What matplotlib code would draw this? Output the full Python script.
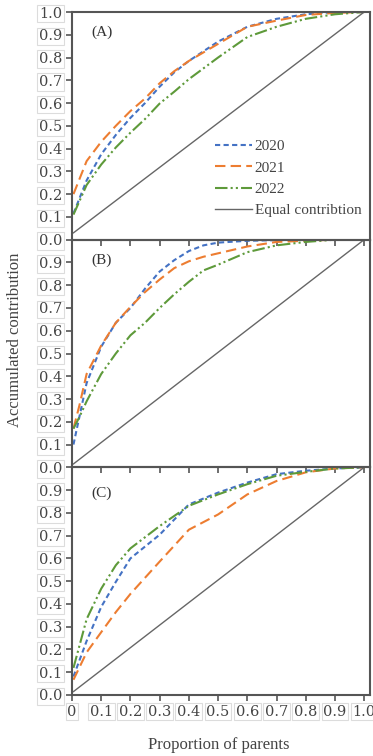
import numpy as np
import matplotlib.pyplot as plt

plt.rcParams['font.family'] = ['DejaVu Serif']

# -------------------------
# Data
# -------------------------
# Panel A
a_x = [0.005, 0.05, 0.1, 0.15, 0.2, 0.25, 0.3, 0.35, 0.4, 0.5, 0.6, 0.7, 0.8, 0.9, 1.0]
a_2020 = [0.115, 0.26, 0.375, 0.46, 0.535, 0.60, 0.672, 0.735, 0.785, 0.87, 0.935, 0.97, 0.99, 1.0, 1.0]
a_2021 = [0.20, 0.345, 0.43, 0.50, 0.565, 0.62, 0.687, 0.74, 0.785, 0.86, 0.935, 0.962, 0.987, 0.996, 1.0]
a_2022 = [0.11, 0.24, 0.33, 0.405, 0.47, 0.53, 0.598, 0.65, 0.705, 0.80, 0.89, 0.935, 0.97, 0.99, 1.0]
a_equal = [0.03, 1.0]

# Panel B
b_x = [0.005, 0.025, 0.05, 0.1, 0.15, 0.2, 0.25, 0.3, 0.35, 0.4, 0.45, 0.5, 0.6, 0.7, 0.8, 0.9, 1.0]
b_2020 = [0.10, 0.22, 0.37, 0.53, 0.635, 0.70, 0.785, 0.86, 0.91, 0.95, 0.975, 0.987, 0.995, 0.998, 1.0, 1.0, 1.0]
b_2021 = [0.17, 0.27, 0.41, 0.535, 0.635, 0.705, 0.77, 0.825, 0.875, 0.905, 0.925, 0.94, 0.97, 0.99, 0.995, 1.0, 1.0]
b_2022 = [0.17, 0.22, 0.29, 0.41, 0.50, 0.58, 0.635, 0.70, 0.76, 0.815, 0.865, 0.89, 0.945, 0.975, 0.99, 1.0, 1.0]
b_equal = [0.015, 1.0]

# Panel C
c_x = [0.005, 0.05, 0.1, 0.15, 0.2, 0.3, 0.4, 0.5, 0.6, 0.7, 0.8, 0.9, 1.0]
c_2020 = [0.081, 0.237, 0.387, 0.497, 0.60, 0.704, 0.837, 0.889, 0.933, 0.97, 0.985, 0.995, 1.0]
c_2021 = [0.067, 0.187, 0.276, 0.364, 0.444, 0.586, 0.726, 0.793, 0.881, 0.94, 0.978, 0.995, 1.0]
c_2022 = [0.119, 0.333, 0.467, 0.57, 0.644, 0.742, 0.831, 0.881, 0.926, 0.963, 0.98, 0.995, 1.0]
c_equal = [0.015, 1.0]

equal_x = [0.005, 1.0]

panels = [
    ("(A)", a_x, a_2020, a_2021, a_2022, a_equal),
    ("(B)", b_x, b_2020, b_2021, b_2022, b_equal),
    ("(C)", c_x, c_2020, c_2021, c_2022, c_equal),
]
tag_y = [0.91, 0.91, 0.885]

xticks = [0, 0.1, 0.2, 0.3, 0.4, 0.5, 0.6, 0.7, 0.8, 0.9, 1.0]
xticklabels = ["0", "0.1", "0.2", "0.3", "0.4", "0.5", "0.6", "0.7", "0.8", "0.9", "1.0"]

# -------------------------
# Styles
# -------------------------
c_blue = "#4472C4"
c_orange = "#ED7D31"
c_green = "#5E9A3A"
c_gray = "#666666"
spine_c = "#555555"
txt_c = "#444444"
serif2 = ['Liberation Serif', 'DejaVu Serif']
box = dict(boxstyle="square,pad=0.12", fc="white", ec="#dcdcdc", lw=0.8)

fig = plt.figure(figsize=(3.73, 7.56), dpi=100)
left, right = 72 / 373, 370 / 373
top = 1 - 12 / 756
bottom = 1 - 695 / 756
h = (top - bottom) / 3

for i, (tag, x, y20, y21, y22, yeq) in enumerate(panels):
    ax = fig.add_axes([left, top - (i + 1) * h, right - left, h])
    ax.plot(x, y20, color=c_blue, lw=1.5, dashes=(2.5, 1.6), label="2020")
    ax.plot(x, y21, color=c_orange, lw=1.5, dashes=(5, 2.5), label="2021")
    ax.plot(x, y22, color=c_green, lw=1.5, dashes=(6, 1.5, 1, 1.5, 1, 1.5), label="2022")
    ax.plot(equal_x, yeq, color=c_gray, lw=1.0, label="Equal contribtion")

    ax.set_xlim(0, 1.02)
    ax.set_ylim(0, 1.0)
    if i == 0:
        yt = np.round(np.arange(0, 1.01, 0.1), 1)
    else:
        yt = np.round(np.arange(0, 0.91, 0.1), 1)
    ax.set_yticks(yt)
    ax.set_yticklabels([f"{v:.1f}" for v in yt], fontsize=10.5, color=txt_c, bbox=box)
    ax.set_xticks(xticks)
    if i == 2:
        ax.set_xticklabels(xticklabels, fontsize=10.5, color=txt_c, bbox=box)
    else:
        ax.set_xticklabels([])
    ax.tick_params(direction="out", length=4, width=1.2, color=spine_c, pad=3)
    for s in ax.spines.values():
        s.set_color(spine_c)
        s.set_linewidth(1.5)
    ax.patch.set_alpha(0)

    ax.text(0.065, tag_y[i], tag, fontsize=11, color="#333333", family=serif2, va="center")

    if i == 0:
        ax.legend(loc="upper left", bbox_to_anchor=(0.48, 0.44), frameon=False,
                  prop={'family': serif2, 'size': 11}, handlelength=2.4,
                  handletextpad=0.2, labelspacing=0.5, borderaxespad=0,
                  borderpad=0, labelcolor=txt_c)

fig.text(15 / 373, 1 - 340 / 756, "Accumulated contribution", rotation=90,
         ha="center", va="center", fontsize=12, color=txt_c, family=serif2)
fig.text(219 / 373, 1 - 745 / 756, "Proportion of parents", ha="center",
         va="center", fontsize=12, color=txt_c, family=serif2)

fig.savefig("out.png", dpi=100)
